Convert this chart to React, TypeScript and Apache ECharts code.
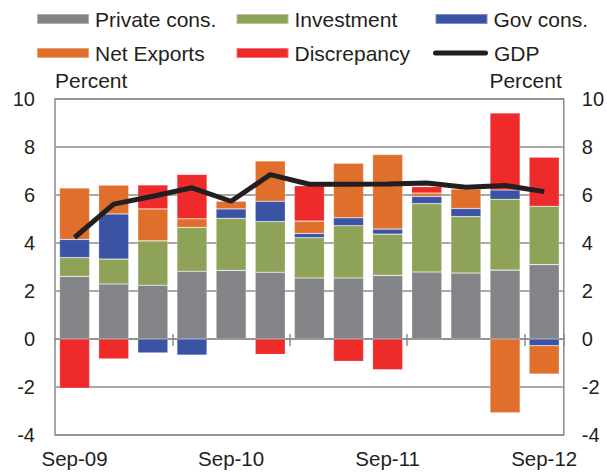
import React, { useEffect, useRef } from "react";
import * as echarts from "echarts";

const categories = ["Sep-09", "Dec-09", "Mar-10", "Jun-10", "Sep-10", "Dec-10", "Mar-11", "Jun-11", "Sep-11", "Dec-11", "Mar-12", "Jun-12", "Sep-12"];
const privateCons = [2.61, 2.29, 2.24, 2.82, 2.86, 2.78, 2.54, 2.54, 2.65, 2.79, 2.75, 2.87, 3.1];
const investment = [0.78, 1.04, 1.85, 1.83, 2.17, 2.11, 1.68, 2.18, 1.72, 2.85, 2.35, 2.95, 2.43];
const govCons = [0.76, 1.88, -0.58, -0.67, 0.39, 0.85, 0.18, 0.33, 0.21, 0.3, 0.34, 0.39, -0.28];
const netExports = [2.14, 1.2, 1.33, 0.36, 0.32, 1.68, 0.51, 2.28, 3.11, 0.14, 0.81, -3.07, -1.18];
const discrepancy = [-2.05, -0.83, 1.0, 1.85, null, -0.64, 1.48, -0.93, -1.28, 0.27, null, 3.21, 2.05];
const gdp = [4.23, 5.62, 5.95, 6.3, 5.74, 6.85, 6.45, 6.45, 6.46, 6.5, 6.32, 6.4, 6.14];
const yTicks = { min: -4, max: 10, interval: 2 };

const FONT = "Liberation Sans, Arial, sans-serif";
const TXT = "#231F20";
const GRID = "#8C8C8C";

export default function App() {
  const ref = useRef<HTMLDivElement>(null);
  useEffect(() => {
    const chart = echarts.init(ref.current!, null, { renderer: "svg" });
    const legendBase = (name: string, left: number, top: number, extra: any = {}) => ({
      data: [name],
      left,
      top,
      padding: 0,
      itemWidth: 52,
      itemHeight: 10,
      itemGap: 0,
      icon: "rect",
      selectedMode: false,
      textStyle: { fontSize: 21, fontFamily: FONT, color: TXT, padding: [0, 0, 0, 1] },
      ...extra,
    });
    const bar = (name: string, data: any[], color: string) => ({
      name,
      type: "bar",
      stack: "total",
      data,
      barCategoryGap: "23%",
      itemStyle: { color, borderColor: "rgba(255,255,255,0.35)", borderWidth: 0.6 },
      xAxisIndex: 0,
      yAxisIndex: 0,
    });
    const yAxisBase = (position: "left" | "right", align: "left" | "right") => ({
      type: "value",
      position,
      min: yTicks.min,
      max: yTicks.max,
      interval: yTicks.interval,
      name: "Percent",
      nameLocation: "end",
      nameGap: 8,
      nameTextStyle: { fontSize: 21, fontFamily: FONT, color: TXT, align, padding: align === "right" ? [0, 2, 0, 0] : 0 },
      axisLine: { show: false },
      axisTick: { show: false },
      axisLabel: { fontSize: 20, fontFamily: FONT, color: TXT, margin: position === "left" ? 20 : 18 },
      splitLine: { show: position === "left", lineStyle: { color: GRID, width: 1.5 } },
    });
    chart.setOption({
      animation: false,
      grid: { left: 55, right: 42, top: 99, bottom: 39, show: true, borderColor: GRID, borderWidth: 1.5, containLabel: false },
      legend: [
        legendBase("Private cons.", 36, 8.5),
        legendBase("Investment", 235.5, 8.5),
        legendBase("Gov cons.", 434.5, 8.5),
        legendBase("Net Exports", 36, 42.5),
        legendBase("Discrepancy", 235.5, 42.5),
        legendBase("GDP", 433, 42.5, {
          icon: "path://M2.5,0L52.5,0A2.5,2.5,0,0,1,52.5,5L2.5,5A2.5,2.5,0,0,1,2.5,0Z",
          itemWidth: 55,
          itemHeight: 5,
          itemStyle: { color: TXT },
        }),
      ],
      xAxis: [
        {
          type: "category",
          data: categories,
          position: "bottom",
          axisLine: { show: false, onZero: false },
          axisTick: { show: false },
          axisLabel: { interval: 3, fontSize: 20.5, fontFamily: FONT, color: TXT, margin: 13 },
        },
        {
          type: "category",
          data: categories,
          position: "bottom",
          axisLine: { show: true, onZero: true, onZeroAxisIndex: 0, lineStyle: { color: GRID, width: 1.5 } },
          axisTick: { show: true, interval: (i: number) => i % 3 === 0 && i > 0, length: 7, lineStyle: { color: GRID, width: 1.5 } },
          axisLabel: { show: false },
        },
        {
          type: "category",
          data: categories,
          position: "bottom",
          axisLine: { show: false, onZero: true, onZeroAxisIndex: 0 },
          axisTick: { show: true, inside: true, interval: (i: number) => i % 3 === 0 && i > 0, length: 5, lineStyle: { color: GRID, width: 1.5 } },
          axisLabel: { show: false },
        },
      ],
      yAxis: [yAxisBase("left", "left"), yAxisBase("right", "right")],
      series: [
        bar("Private cons.", privateCons, "#838488"),
        bar("Investment", investment, "#8FA358"),
        bar("Gov cons.", govCons, "#3A53A4"),
        bar("Net Exports", netExports, "#DF6F2B"),
        bar("Discrepancy", discrepancy, "#EE2A2B"),
        {
          name: "GDP",
          type: "line",
          data: gdp,
          color: TXT,
          symbol: "none",
          lineStyle: { color: TXT, width: 5 },
          z: 5,
          xAxisIndex: 0,
          yAxisIndex: 0,
        },
      ],
    });
    return () => chart.dispose();
  }, []);
  return <div ref={ref} style={{ position: "fixed", left: 0, top: 0, width: 607, height: 474, background: "#fff" }} />;
}
